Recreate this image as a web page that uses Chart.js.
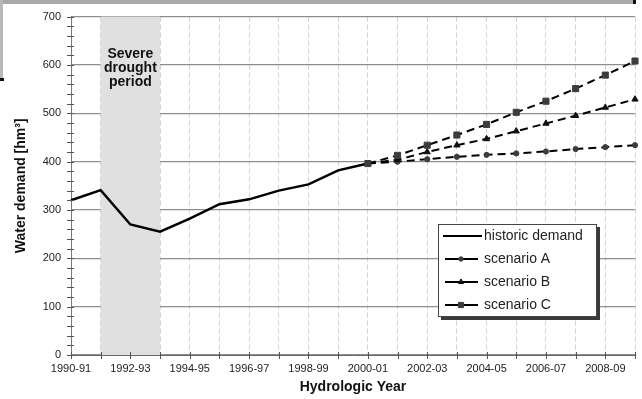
<!DOCTYPE html>
<html>
<head>
<meta charset="utf-8">
<title>Water demand scenarios</title>
<script src="https://cdn.jsdelivr.net/npm/chart.js@4.4.1/dist/chart.umd.min.js"></script>
<style>
  html, body { margin: 0; padding: 0; background: #ffffff; }
  #wrap { width: 642px; height: 399px; position: relative; }
</style>
</head>
<body>
<div id="wrap"><canvas id="c" width="642" height="399"></canvas></div>
<script>
// Hydrologic years on the x axis
const years = [
  '1990-91', '1991-92', '1992-93', '1993-94', '1994-95', '1995-96', '1996-97',
  '1997-98', '1998-99', '1999-00', '2000-01', '2001-02', '2002-03', '2003-04',
  '2004-05', '2005-06', '2006-07', '2007-08', '2008-09', '2009-10'
];

// Water demand, hm3
const historicDemand = [320, 341, 270, 255, 282, 312, 322, 340, 353, 382, 396,
  null, null, null, null, null, null, null, null, null];
const scenarioA = [null, null, null, null, null, null, null, null, null, null,
  396, 400, 405, 410, 414, 417, 421, 426, 430, 434];
const scenarioB = [null, null, null, null, null, null, null, null, null, null,
  396, 404, 420, 434, 447, 463, 479, 495, 512, 529];
const scenarioC = [null, null, null, null, null, null, null, null, null, null,
  396, 413, 434, 455, 477, 502, 525, 551, 579, 608];

// Shaded drought band
const droughtStart = '1991-92';
const droughtEnd = '1993-94';
const droughtText = ['Severe', 'drought', 'period'];

const yMax = 700;
const yStep = 100;
const yMinorStep = 20;

const FONT = "'Liberation Sans', Arial, Helvetica, sans-serif";

// Background band for the drought years, with its caption
const droughtBand = {
  id: 'droughtBand',
  beforeDatasetsDraw(chart) {
    const { ctx, chartArea, scales: { x } } = chart;
    const x0 = x.getPixelForValue(years.indexOf(droughtStart));
    const x1 = x.getPixelForValue(years.indexOf(droughtEnd));
    ctx.save();
    ctx.fillStyle = '#e0e0e0';
    ctx.fillRect(x0, chartArea.top, x1 - x0, chartArea.bottom - chartArea.top);
    ctx.restore();
  },
  afterDatasetsDraw(chart) {
    const { ctx, chartArea, scales: { x } } = chart;
    const x0 = x.getPixelForValue(years.indexOf(droughtStart));
    const x1 = x.getPixelForValue(years.indexOf(droughtEnd));
    ctx.save();
    ctx.fillStyle = '#111';
    ctx.font = 'bold 14px ' + FONT;
    ctx.textAlign = 'center';
    ctx.textBaseline = 'middle';
    droughtText.forEach((t, i) => {
      ctx.fillText(t, (x0 + x1) / 2, chartArea.top + 38 + i * 14);
    });
    ctx.restore();
  }
};

// White page with the figure frame along the top and left edges
const pageFrame = {
  id: 'pageFrame',
  beforeDraw(chart) {
    const { ctx } = chart;
    ctx.save();
    ctx.fillStyle = '#ffffff';
    ctx.fillRect(0, 0, chart.width, chart.height);
    ctx.fillStyle = '#a9a9a9';
    ctx.fillRect(0, 0, 633, 4);
    ctx.fillStyle = '#b8b8b8';
    ctx.fillRect(0, 0, 3, 80);
    ctx.fillStyle = '#111';
    ctx.fillRect(633, 0, 3, 4);
    ctx.fillRect(0, 78, 4, 3);
    ctx.restore();
  }
};

// Tick marks crossing both axes
const crossTicks = {
  id: 'crossTicks',
  afterDraw(chart) {
    const { ctx, chartArea, scales: { x, y } } = chart;
    ctx.save();
    ctx.strokeStyle = '#555';
    ctx.lineWidth = 1;
    ctx.beginPath();
    for (let v = 0; v <= yMax; v += yMinorStep) {
      const py = Math.round(y.getPixelForValue(v)) + 0.5;
      ctx.moveTo(chartArea.left - 4, py);
      ctx.lineTo(chartArea.left + 3, py);
    }
    for (let i = 0; i < years.length; i++) {
      const px = Math.round(x.getPixelForValue(i)) + 0.5;
      ctx.moveTo(px, chartArea.bottom - 3);
      ctx.lineTo(px, chartArea.bottom + 4);
    }
    ctx.stroke();
    ctx.restore();
  }
};

// Boxed legend with drop shadow inside the plot
const boxLegend = {
  id: 'boxLegend',
  afterDraw(chart) {
    const { ctx } = chart;
    const bx = 438, by = 224, bw = 159, bh = 93;
    ctx.save();
    ctx.fillStyle = '#3a3a3a';
    ctx.fillRect(bx + 3, by + 3, bw, bh);
    ctx.fillStyle = '#ffffff';
    ctx.fillRect(bx, by, bw, bh);
    ctx.strokeStyle = '#444';
    ctx.lineWidth = 1;
    ctx.strokeRect(bx + 0.5, by + 0.5, bw - 1, bh - 1);
    ctx.font = '14px ' + FONT;
    ctx.textBaseline = 'middle';
    ctx.textAlign = 'left';
    chart.data.datasets.forEach((ds, i) => {
      const cy = by + 12 + i * 23;
      ctx.strokeStyle = '#000';
      ctx.lineWidth = 2;
      ctx.setLineDash([]);
      ctx.beginPath();
      if (i === 0) {
        ctx.moveTo(bx + 5, cy);
        ctx.lineTo(bx + 44, cy);
      } else {
        ctx.moveTo(bx + 7, cy);
        ctx.lineTo(bx + 40, cy);
      }
      ctx.stroke();
      if (ds.pointStyle && ds.pointRadius) {
        ctx.fillStyle = ds.pointBackgroundColor;
        ctx.strokeStyle = ds.pointBorderColor;
        ctx.lineWidth = 1;
        Chart.helpers.drawPoint(ctx, {
          pointStyle: ds.pointStyle,
          radius: ds.pointRadius * 0.85,
          rotation: 0,
          borderWidth: 1
        }, bx + 23, cy);
      }
      ctx.fillStyle = '#222';
      ctx.fillText(ds.label, bx + 46, cy);
    });
    ctx.restore();
  }
};

const markerFill = '#3c3c3c';

new Chart(document.getElementById('c'), {
  type: 'line',
  data: {
    labels: years,
    datasets: [
      {
        label: 'historic demand',
        data: historicDemand,
        borderColor: '#000',
        borderWidth: 2.5,
        pointRadius: 0,
        tension: 0,
        order: 3
      },
      {
        label: 'scenario A',
        data: scenarioA,
        borderColor: '#000',
        borderWidth: 2,
        borderDash: [8, 5],
        pointStyle: 'circle',
        pointRadius: 2.6,
        pointBorderWidth: 1,
        pointBackgroundColor: markerFill,
        pointBorderColor: markerFill,
        tension: 0,
        order: 2
      },
      {
        label: 'scenario B',
        data: scenarioB,
        borderColor: '#000',
        borderWidth: 2,
        borderDash: [8, 5],
        pointStyle: 'triangle',
        pointRadius: 3.6,
        pointBorderWidth: 1,
        pointBackgroundColor: '#111',
        pointBorderColor: '#111',
        tension: 0,
        order: 1
      },
      {
        label: 'scenario C',
        data: scenarioC,
        borderColor: '#000',
        borderWidth: 2,
        borderDash: [8, 5],
        pointStyle: 'rect',
        pointRadius: 4.3,
        pointBorderWidth: 1,
        pointBackgroundColor: markerFill,
        pointBorderColor: markerFill,
        tension: 0,
        order: 0
      }
    ]
  },
  options: {
    responsive: false,
    animation: false,
    devicePixelRatio: 1,
    spanGaps: false,
    layout: { padding: { top: 14, right: 6, left: 0, bottom: 0 } },
    plugins: {
      legend: { display: false },
      tooltip: { enabled: false }
    },
    scales: {
      x: {
        type: 'category',
        offset: false,
        afterFit(scale) { scale.height = 44; },
        grid: {
          color: '#d2d2d2',
          lineWidth: 1,
          drawTicks: false
        },
        border: { display: true, color: '#666', width: 1, dash: [5, 3] },
        ticks: {
          autoSkip: false,
          maxRotation: 0,
          padding: 7,
          color: '#222',
          font: { family: FONT, size: 11 },
          callback: (v, i) => (i % 2 === 0 ? years[i] : '')
        },
        title: {
          display: true,
          text: 'Hydrologic Year',
          color: '#111',
          font: { family: FONT, size: 14, weight: 'bold' },
          padding: { top: 0, bottom: 3 }
        }
      },
      y: {
        min: 0,
        max: yMax,
        afterFit(scale) { scale.width = 71; },
        grid: {
          color: '#8e8e8e',
          lineWidth: 1.2,
          drawTicks: false
        },
        border: { display: true, color: '#777', width: 1 },
        ticks: {
          stepSize: yStep,
          padding: 10,
          color: '#222',
          font: { family: FONT, size: 11 }
        },
        title: {
          display: true,
          text: 'Water demand [hm³]',
          color: '#111',
          font: { family: FONT, size: 14, weight: 'bold' },
          padding: { top: 13, bottom: 0 }
        }
      }
    }
  },
  plugins: [pageFrame, droughtBand, crossTicks, boxLegend]
});
</script>
</body>
</html>
